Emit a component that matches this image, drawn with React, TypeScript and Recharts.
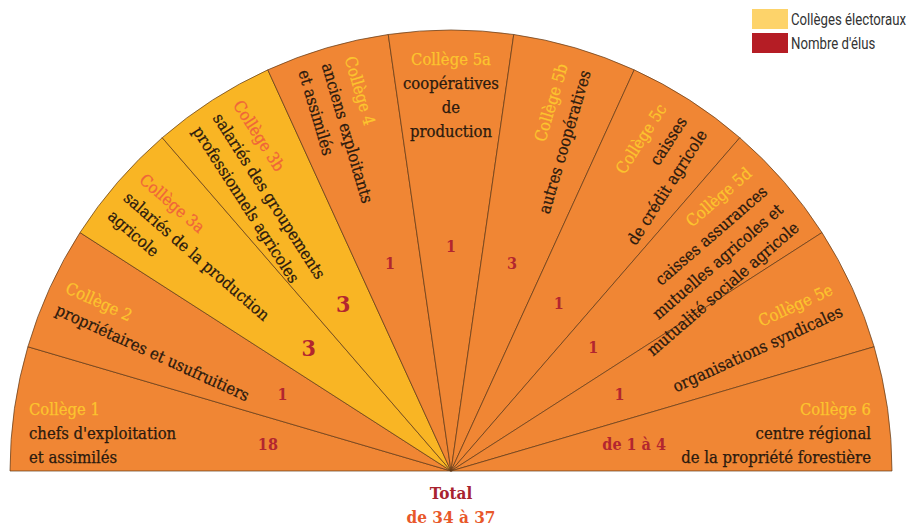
import React from 'react';
import { Pie, PieChart, Cell } from 'recharts';

const colleges = [
  'Collège 1',
  'Collège 2',
  'Collège 3a',
  'Collège 3b',
  'Collège 4',
  'Collège 5a',
  'Collège 5b',
  'Collège 5c',
  'Collège 5d',
  'Collège 5e',
  'Collège 6',
];

const descriptions = [
  ["chefs d'exploitation", 'et assimilés'],
  ['propriétaires et usufruitiers'],
  ['salariés de la production', 'agricole'],
  ['salariés des groupements', 'professionnels agricoles'],
  ['anciens exploitants', 'et assimilés'],
  ['coopératives', 'de', 'production'],
  ['autres coopératives'],
  ['caisses', 'de crédit agricole'],
  ['caisses assurances', 'mutuelles agricoles et', 'mutualité sociale agricole'],
  ['organisations syndicales'],
  ['centre régional', 'de la propriété forestière'],
];

const elus = ['18', '1', '3', '3', '1', '1', '3', '1', '1', '1', 'de 1 à 4'];

// each college gets the same share of the half circle
const shares = [1, 1, 1, 1, 1, 1, 1, 1, 1, 1, 1];

// colleges drawn in yellow (salariés)
const salaried = [false, false, true, true, false, false, false, false, false, false, false];

const legendItems = [
  { label: 'Collèges électoraux', color: '#fdd36a' },
  { label: "Nombre d'élus", color: '#b51d25' },
];

const data = colleges.map((name, i) => ({
  name,
  value: shares[i],
  lines: descriptions[i],
  elus: elus[i],
  salaried: salaried[i],
}));

const ORANGE = '#f08634';
const YELLOW = '#f9b524';
const SERIF = '"DejaVu Serif Condensed", "DejaVu Serif", serif';
const LH = 24;
const RAD = Math.PI / 180;

const SliceLabel = (props: any) => {
  const { cx, cy, midAngle, index } = props;
  const d = data[index];
  const m = midAngle;
  const ux = Math.cos(m * RAD);
  const uy = -Math.sin(m * RAD);
  const titleColor = d.salaried ? '#f0643a' : '#fcc42e';
  const all = [d.name, ...d.lines];

  const lines = (anchor: string, y0: number, lh: number) =>
    all.map((t, k) => (
      <text
        key={k}
        x={0}
        y={y0 + k * lh}
        textAnchor={anchor}
        fill={k === 0 ? titleColor : '#2b1a0e'}
        stroke={k === 0 ? titleColor : '#2b1a0e'}
        strokeWidth={0.25}
        fontSize={16.5}
        fontFamily={SERIF}
      >
        {t}
      </text>
    ));

  let block;
  if (index === 0) {
    block = <g transform={`translate(${cx - 422},${cy - 56})`}>{lines('start', 0, LH)}</g>;
  } else if (index === colleges.length - 1) {
    block = <g transform={`translate(${cx + 420},${cy - 56})`}>{lines('end', 0, LH)}</g>;
  } else if (index === 5) {
    block = <g transform={`translate(${cx},${cy - 406})`}>{lines('middle', 0, 24)}</g>;
  } else if (m > 90) {
    const r = 426;
    const y0 = -((all.length - 1) * LH) / 2 + 10;
    block = (
      <g transform={`translate(${cx + ux * r},${cy + uy * r}) rotate(${180 - m})`}>
        {lines('start', y0, LH)}
      </g>
    );
  } else {
    const r = 422;
    const y0 = -((all.length - 1) * LH) / 2 + 10;
    block = (
      <g transform={`translate(${cx + ux * r},${cy + uy * r}) rotate(${-m})`}>
        {lines('end', y0, LH)}
      </g>
    );
  }

  const rn = 185 + 40 * Math.pow(Math.sin(m * RAD), 6);
  return (
    <g>
      {block}
      <text
        x={cx + ux * rn}
        y={cy + uy * rn}
        textAnchor="middle"
        dominantBaseline="central"
        fill="#b3262f"
        fontWeight="bold"
        fontSize={d.salaried ? 23 : 16}
        fontFamily={SERIF}
      >
        {d.elus}
      </text>
    </g>
  );
};

export default function App() {
  return (
    <div
      style={{
        position: 'absolute',
        left: 0,
        top: 0,
        width: 913,
        height: 526,
        background: '#ffffff',
      }}
    >
      <PieChart width={913} height={526} margin={{ top: 0, right: 0, bottom: 0, left: 0 }}>
        <Pie
          data={data}
          dataKey="value"
          cx={451}
          cy={471}
          startAngle={180}
          endAngle={0}
          innerRadius={0}
          outerRadius={441}
          stroke="#5b3616"
          strokeWidth={0.7}
          label={SliceLabel}
          labelLine={false}
          isAnimationActive={false}
        >
          {data.map((entry, index) => (
            <Cell key={`cell-${index}`} fill={entry.salaried ? YELLOW : ORANGE} />
          ))}
        </Pie>
      </PieChart>

      <div style={{ position: 'absolute', left: 752, top: 7 }}>
        {legendItems.map((item) => (
          <div key={item.label} style={{ display: 'flex', alignItems: 'center', height: 24 }}>
            <div style={{ width: 36, height: 20, background: item.color }} />
            <span
              style={{
                marginLeft: 3,
                fontFamily: 'Roboto, sans-serif',
                fontSize: 16.5,
                color: '#333333',
                whiteSpace: 'nowrap',
                display: 'inline-block',
                transform: 'scaleX(0.8)',
                transformOrigin: 'left center',
              }}
            >
              {item.label}
            </span>
          </div>
        ))}
      </div>

      <div
        style={{
          position: 'absolute',
          left: 351,
          width: 200,
          top: 481,
          textAlign: 'center',
          fontFamily: SERIF,
          fontWeight: 'bold',
          fontSize: 17,
          lineHeight: '24px',
        }}
      >
        <div style={{ color: '#a8232f' }}>Total</div>
        <div style={{ color: '#e8582a' }}>de 34 à 37</div>
      </div>
    </div>
  );
}
